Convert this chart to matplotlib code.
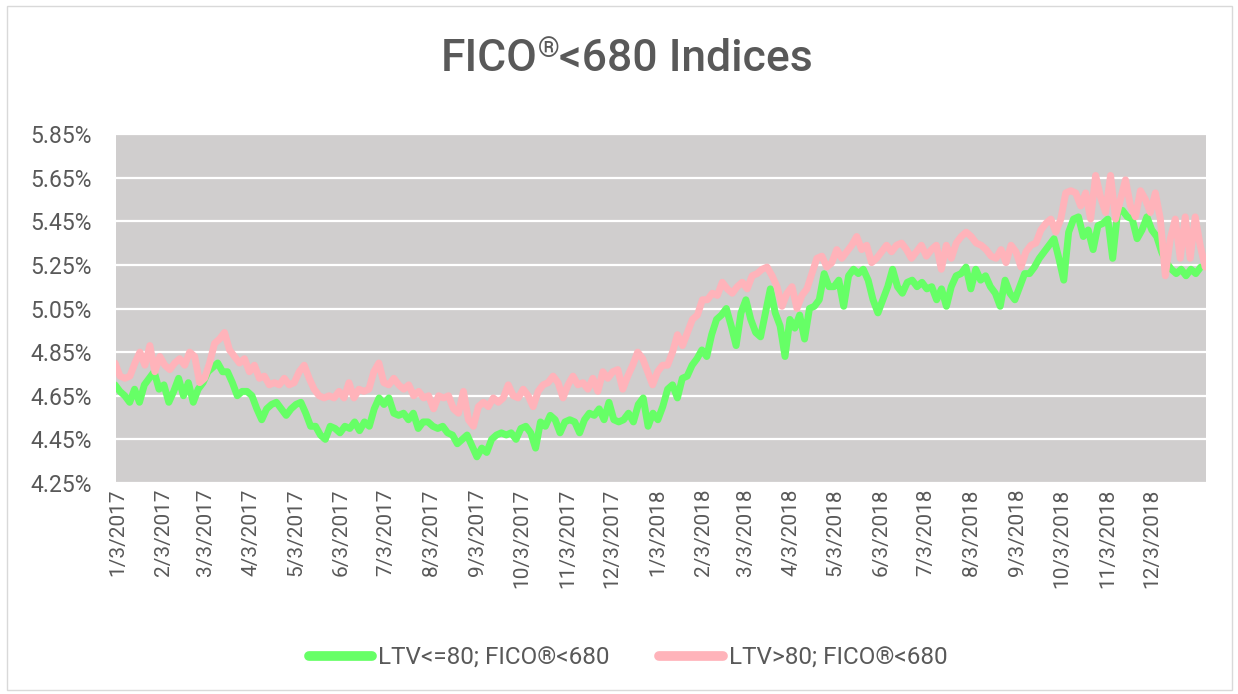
import matplotlib
matplotlib.use("Agg")
import matplotlib.pyplot as plt
import matplotlib.patches as patches
import pandas as pd

plt.rcParams['font.family'] = 'Roboto'

# chart values (percent), roughly every 3-4 days
ltv_le80 = [
    4.70, 4.67, 4.65, 4.62, 4.68, 4.62, 4.70, 4.73, 4.76, 4.68,
    4.70, 4.62, 4.67, 4.73, 4.65, 4.71, 4.62, 4.68, 4.71, 4.76,
    4.78, 4.80, 4.76, 4.76, 4.71, 4.65, 4.67, 4.67, 4.65, 4.59,
    4.54, 4.59, 4.61, 4.62, 4.59, 4.56, 4.59, 4.61, 4.62, 4.57,
    4.51, 4.51, 4.47, 4.45, 4.51, 4.50, 4.48, 4.51, 4.50, 4.53,
    4.49, 4.53, 4.51, 4.59, 4.64,
    4.61, 4.64, 4.57, 4.56, 4.57, 4.54, 4.57, 4.50, 4.53, 4.53,
    4.51, 4.50, 4.51, 4.48, 4.47, 4.43, 4.45, 4.47, 4.42, 4.37,
    4.41, 4.39, 4.45, 4.47, 4.48, 4.47, 4.48, 4.45, 4.50, 4.51,
    4.48, 4.41, 4.53, 4.51, 4.56, 4.54, 4.48, 4.53, 4.54, 4.53,
    4.48, 4.54, 4.57, 4.56, 4.59, 4.54, 4.62, 4.54, 4.53, 4.54,
    4.57, 4.53, 4.61, 4.64, 4.51, 4.57,
    4.54, 4.60, 4.68, 4.70, 4.64, 4.73, 4.74, 4.79, 4.82, 4.86,
    4.83, 4.93, 5.00, 5.02, 5.05, 4.97, 4.88, 5.03, 5.09, 5.00,
    4.94, 4.92, 5.03, 5.14, 5.03, 4.97, 4.83, 5.00, 4.96, 5.02,
    4.91, 5.05, 5.06, 5.09, 5.21, 5.15, 5.15, 5.18, 5.06, 5.20,
    5.23, 5.21, 5.23, 5.18, 5.09, 5.03, 5.09, 5.15, 5.23, 5.15,
    5.12, 5.17,
    5.18, 5.15, 5.17, 5.14, 5.15, 5.09, 5.14, 5.06, 5.15, 5.20,
    5.21, 5.24, 5.14, 5.23, 5.18, 5.20, 5.15, 5.12, 5.06, 5.18,
    5.12, 5.09, 5.15, 5.21, 5.21, 5.24, 5.28, 5.31, 5.34, 5.37,
    5.28, 5.18, 5.40, 5.46, 5.47, 5.38, 5.41, 5.32, 5.43, 5.44,
    5.46, 5.28, 5.49, 5.50, 5.47, 5.46, 5.37, 5.41, 5.47, 5.41,
    5.38, 5.31, 5.26, 5.23, 5.21, 5.23, 5.20, 5.23, 5.21, 5.24,
]

ltv_gt80 = [
    4.80, 4.74, 4.73, 4.74, 4.80, 4.85, 4.79, 4.88, 4.76, 4.83,
    4.79, 4.77, 4.80, 4.82, 4.79, 4.85, 4.83, 4.71, 4.73, 4.80,
    4.89, 4.91, 4.94, 4.86, 4.83, 4.80, 4.82, 4.76, 4.79, 4.73,
    4.74, 4.70, 4.71, 4.70, 4.73, 4.70, 4.71, 4.76, 4.79, 4.73,
    4.68, 4.65, 4.64, 4.65, 4.64, 4.67, 4.64, 4.71, 4.64, 4.68,
    4.67, 4.68, 4.76,
    4.80, 4.71, 4.70, 4.73, 4.70, 4.68, 4.70, 4.65, 4.67, 4.64,
    4.65, 4.59, 4.65, 4.64, 4.65, 4.59, 4.57, 4.67, 4.54, 4.51,
    4.60, 4.62, 4.60, 4.64, 4.62, 4.64, 4.70, 4.65, 4.64, 4.68,
    4.65, 4.60, 4.67, 4.70, 4.71, 4.74, 4.71, 4.64, 4.70, 4.74,
    4.70, 4.71, 4.68, 4.73, 4.67, 4.76, 4.73, 4.76, 4.77, 4.68,
    4.74, 4.79, 4.85, 4.82, 4.76, 4.70,
    4.76, 4.79, 4.79, 4.85, 4.93, 4.88, 4.94, 5.00, 5.02, 5.09,
    5.09, 5.12, 5.11, 5.17, 5.14, 5.12, 5.15, 5.17, 5.14, 5.20,
    5.21, 5.23, 5.24, 5.20, 5.15, 5.06, 5.12, 5.15, 5.05, 5.11,
    5.14, 5.21, 5.28, 5.29, 5.24, 5.26, 5.32, 5.28, 5.31, 5.34,
    5.38, 5.32, 5.34, 5.26, 5.28, 5.31, 5.34, 5.31, 5.34, 5.35,
    5.32,
    5.28, 5.31, 5.34, 5.29, 5.32, 5.34, 5.23, 5.34, 5.28, 5.35,
    5.38, 5.40, 5.38, 5.35, 5.34, 5.32, 5.29, 5.28, 5.32, 5.26,
    5.34, 5.31, 5.24, 5.31, 5.34, 5.35, 5.41, 5.44, 5.46, 5.40,
    5.46, 5.58, 5.59, 5.58, 5.52, 5.58, 5.46, 5.66, 5.56, 5.49,
    5.66, 5.46, 5.55, 5.64, 5.52, 5.47, 5.59, 5.55, 5.49, 5.58,
    5.46, 5.20, 5.37, 5.46, 5.28, 5.47, 5.28, 5.47, 5.34, 5.24,
]

# first / last date of each series
le80_span = ('2017-01-01', '2019-01-05')
gt80_span = ('2017-01-01', '2019-01-08')

labels = ['LTV<=80; FICO®<680', 'LTV>80; FICO®<680']
y_ticks = [4.25, 4.45, 4.65, 4.85, 5.05, 5.25, 5.45, 5.65, 5.85]
x_ticks = pd.date_range('2017-01-01', '2018-12-01', freq='MS') + pd.Timedelta(days=2)

text_col = '#595959'
W, H = 1238, 694

le80_dates = pd.date_range(le80_span[0], le80_span[1], periods=len(ltv_le80))
gt80_dates = pd.date_range(gt80_span[0], gt80_span[1], periods=len(ltv_gt80))

fig = plt.figure(figsize=(W/100, H/100), dpi=100)
ax = fig.add_axes([116/W, 1 - 483/H, 1090/W, 349/H])
ax.set_facecolor('#D0CECE')

ax.plot(le80_dates, ltv_le80, color='#66FF66', lw=5, solid_joinstyle='round',
        solid_capstyle='round', label=labels[0], zorder=3)
ax.plot(gt80_dates, ltv_gt80, color='#FFB3BA', lw=5, solid_joinstyle='round',
        solid_capstyle='round', label=labels[1], zorder=4)

ax.set_ylim(4.25, 5.85)
ax.set_xlim(pd.Timestamp('2017-01-01 16:00'), pd.Timestamp('2019-01-08 14:00'))

ax.set_yticks(y_ticks)
ax.set_yticklabels([f"{v:.2f}%" for v in y_ticks])
ax.set_xticks(x_ticks)
ax.set_xticklabels([f"{d.month}/{d.day}/{d.year}" for d in x_ticks], rotation=90)
ax.tick_params(axis='both', length=0, labelcolor=text_col)
ax.tick_params(axis='y', pad=17.5, labelsize=16.5)
ax.tick_params(axis='x', pad=4, labelsize=15)

ax.grid(axis='y', color='white', lw=1.6)
ax.set_axisbelow(True)
for s in ax.spines.values():
    s.set_visible(False)

# title with a raised, smaller ® ; pieces placed side by side
fig.canvas.draw()
r = fig.canvas.get_renderer()
base_y = 1 - 71/H
t1 = fig.text(0, base_y, 'FICO', fontsize=32, fontweight='medium', color=text_col, va='baseline')
t2 = fig.text(0, 1 - 57/H, '®', fontsize=20, fontweight='medium', color=text_col, va='baseline')
t3 = fig.text(0, base_y, '<680 Indices', fontsize=32, fontweight='medium', color=text_col, va='baseline')
widths = [t.get_window_extent(r).width for t in (t1, t2, t3)]
x = 627 - sum(widths)/2
for t, w in zip((t1, t2, t3), widths):
    t.set_x(x/W)
    x += w

leg = fig.legend(loc='center', bbox_to_anchor=(628/W, 1 - 658/H), ncol=2,
                 frameon=False, fontsize=17.5, handlelength=2.6, handletextpad=0.25,
                 columnspacing=2.05)
for t in leg.get_texts():
    t.set_color(text_col)
for h in leg.get_lines():
    h.set_linewidth(7)

# light border round the chart area
fig.patches.append(patches.Rectangle((7/W, 4/H), 1225/W, 684/H,
                                     transform=fig.transFigure, fill=False,
                                     edgecolor='#D9D9D9', lw=1))

fig.savefig('out.png', dpi=100)
